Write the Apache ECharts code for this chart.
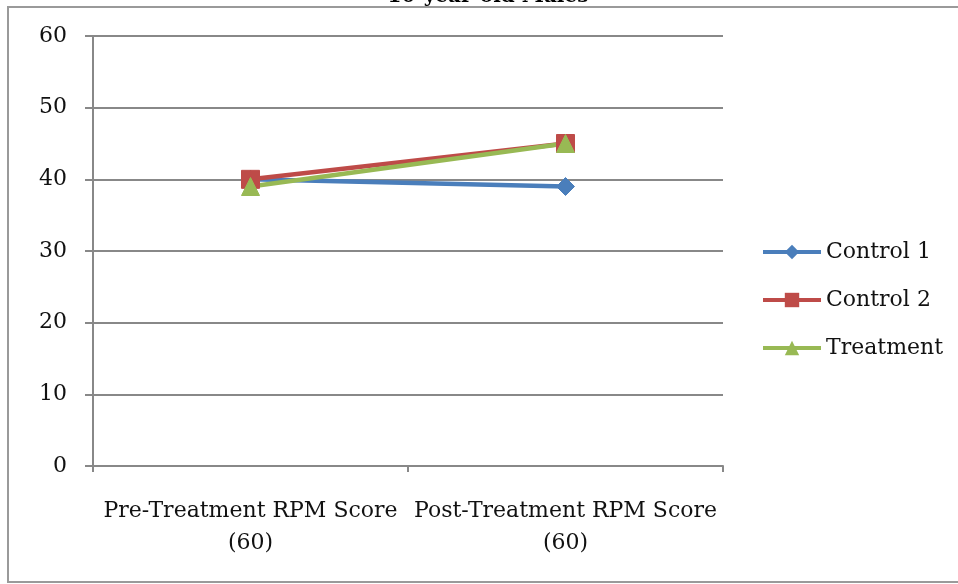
<!DOCTYPE html>
<html>
<head>
<meta charset="utf-8">
<script src="https://cdn.jsdelivr.net/npm/echarts@6/dist/echarts.min.js"></script>
<style>
  html, body { margin: 0; padding: 0; background: #fff; }
  #chart { width: 958px; height: 584px; }
</style>
</head>
<body>
<div id="chart"></div>
<script>
// Phases measured
const categories = ['Pre-Treatment RPM Score\n(60)', 'Post-Treatment RPM Score\n(60)'];
// Group scores
const control1 = [40, 39];
const control2 = [40, 45];
const treatment = [39, 45];
// Y axis ticks
const yTicks = [0, 10, 20, 30, 40, 50, 60];

const FONT = 'DejaVu Serif';
const chart = echarts.init(document.getElementById('chart'), null, { renderer: 'canvas' });

function line(name, data, color, symbol, size) {
  return {
    name, type: 'line', data,
    symbol, symbolSize: size,
    lineStyle: { color, width: 4.5 },
    itemStyle: { color, borderColor: color },
    emphasis: { disabled: true }
  };
}

chart.setOption({
  animation: false,
  backgroundColor: '#fff',
  graphic: [
    { type: 'rect', shape: { x: 8, y: 7, width: 960, height: 575 },
      style: { fill: 'none', stroke: '#9a9a9a', lineWidth: 2 }, z: -1 },
    { type: 'text', x: 488, y: -13,
      style: { text: '10-year-old Males', font: 'bold 20px "DejaVu Serif"', fill: '#000', align: 'center' } }
  ],
  grid: { left: 93, right: 235, top: 36, bottom: 118 },
  legend: {
    orient: 'vertical', left: 756, top: 235, itemGap: 24,
    itemWidth: 58, itemHeight: 18,
    lineStyle: { width: 4 },
    textStyle: { fontFamily: FONT, fontSize: 22, lineHeight: 24, color: '#111' },
    data: ['Control 1', 'Control 2', 'Treatment']
  },
  xAxis: {
    type: 'category', data: categories, boundaryGap: true,
    axisLine: { lineStyle: { color: '#888', width: 2 } },
    axisTick: { show: true, length: 6, lineStyle: { color: '#888', width: 2 } },
    axisLabel: { interval: 0, fontFamily: FONT, fontSize: 22, color: '#111', margin: 29, lineHeight: 32 }
  },
  yAxis: {
    type: 'value', min: yTicks[0], max: yTicks[yTicks.length - 1], interval: 10,
    axisLine: { show: true, lineStyle: { color: '#888', width: 2 } },
    axisTick: { show: true, length: 8, lineStyle: { color: '#888', width: 2 } },
    splitLine: { lineStyle: { color: '#888', width: 2 } },
    axisLabel: { fontFamily: FONT, fontSize: 22, color: '#111', margin: 26 }
  },
  series: [
    line('Control 1', control1, '#4A7EBB', 'diamond', 18),
    line('Control 2', control2, '#BE4B48', 'rect', 18),
    line('Treatment', treatment, '#98B954', 'triangle', 18)
  ]
});
</script>
</body>
</html>
